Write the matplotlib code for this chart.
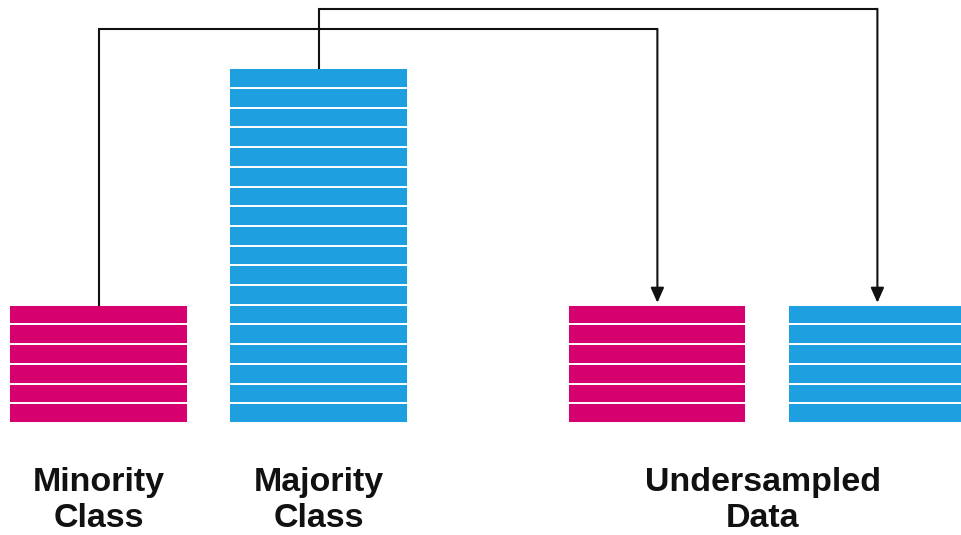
import matplotlib
matplotlib.use("Agg")
from matplotlib import pyplot as plt

# bars: number of stacked samples per block
labels    = ["Minority", "Majority", "Minority (under)", "Majority (under)"]
counts    = [6, 18, 6, 6]
positions = [0, 1, 2.54, 3.54]
colors    = ["#d6006e", "#1e9fe0", "#d6006e", "#1e9fe0"]

# which source block feeds which undersampled block
links      = [(0, 2), (1, 3)]
link_level = [20.0, 21.02]

captions     = ["Minority\nClass", "Majority\nClass", "Undersampled\nData"]
caption_x    = [0, 1, 3.02]

fig = plt.figure(figsize=(9.61, 5.35), dpi=100)
ax = fig.add_axes([0, 0, 1, 1])

width = 0.81
for pos, n, c in zip(positions, counts, colors):
    for i in range(n):
        ax.bar(pos, 1, bottom=i, width=width, color=c,
               edgecolor="white", linewidth=1.4)

for (src, dst), lvl in zip(links, link_level):
    x0, x1 = positions[src], positions[dst]
    ax.plot([x0, x0, x1], [counts[src], lvl, lvl], color="#111111",
            lw=1.5, solid_joinstyle="miter")
    ax.annotate("", xy=(x1, counts[dst] + 0.1), xytext=(x1, lvl),
                arrowprops=dict(arrowstyle="-|>,head_length=0.9,head_width=0.4",
                                color="#111111", lw=1.5,
                                shrinkA=0, shrinkB=0))

for x, t in zip(caption_x, captions):
    ax.text(x, -3.93, t, ha="center", va="center", fontsize=24.5,
            fontweight="bold", family="Liberation Sans", color="#111111",
            linespacing=1.2)

ax.set_xlim(-0.448, 3.92)
ax.set_ylim(-5.69, 21.47)
ax.axis("off")

plt.savefig("out.png", dpi=100)
